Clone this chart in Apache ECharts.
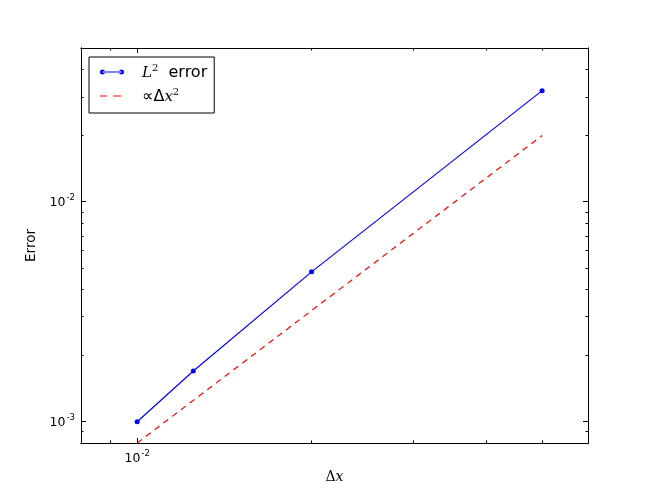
<!DOCTYPE html>
<html>
<head>
<meta charset="utf-8">
<script src="https://cdn.jsdelivr.net/npm/echarts@6/dist/echarts.min.js"></script>
<style>
  html, body { margin: 0; padding: 0; background: #fff; }
  #chart { width: 654px; height: 493px; }
</style>
</head>
<body>
<div id="chart"></div>
<script>
// data
const dx = [0.01, 0.0125, 0.02, 0.05]
const l2Error = [0.001, 0.0017, 0.0048, 0.032]
const refDx2 = [0.0008, 0.00125, 0.0032, 0.02]

// ticks
const xMajor = [0.01]
const xMinor = [0.008, 0.009, 0.02, 0.03, 0.04, 0.05]
const yMajor = [0.001, 0.01]
const yMinor = [0.0008, 0.0009, 0.002, 0.003, 0.004, 0.005, 0.006, 0.007, 0.008, 0.009, 0.02, 0.03, 0.04]

const font = 'DejaVu Sans'
const serif = 'DejaVu Serif'

const powRich = {
  b: { fontFamily: font, fontSize: 12.5, color: '#000', lineHeight: 16, verticalAlign: 'bottom' },
  s: { fontFamily: font, fontSize: 8.5, color: '#000', lineHeight: 16, verticalAlign: 'top', padding: [0, 0, 0, 1] }
}
function powLabel (v) {
  const e = Math.round(Math.log10(v))
  return '{b|10}{s|' + e + '}'
}

const axisLine = { show: true, lineStyle: { color: '#000', width: 1 } }

function xAx (pos, ticks, len, withLabel) {
  return {
    type: 'log',
    logBase: 10,
    min: 0.008,
    max: 0.06,
    position: pos,
    axisLine: axisLine,
    axisTick: { show: true, inside: true, length: len, customValues: ticks, lineStyle: { color: '#000' } },
    axisLabel: withLabel
      ? { show: true, customValues: ticks, margin: 6, formatter: powLabel, rich: powRich }
      : { show: false },
    splitLine: { show: false },
    minorTick: { show: false }
  }
}
function yAx (pos, ticks, len, withLabel) {
  return {
    type: 'log',
    logBase: 10,
    min: 0.0008,
    max: 0.05,
    position: pos,
    axisLine: axisLine,
    axisTick: { show: true, inside: true, length: len, customValues: ticks, lineStyle: { color: '#000' } },
    axisLabel: withLabel
      ? { show: true, customValues: ticks, margin: 6, formatter: powLabel, rich: powRich }
      : { show: false },
    splitLine: { show: false },
    minorTick: { show: false }
  }
}

const xAxes = [xAx('bottom', xMajor, 5, true), xAx('bottom', xMinor, 2.5, false), xAx('top', xMajor, 5, false), xAx('top', xMinor, 2.5, false)]
xAxes[0].name = 'Δ{i|x}'
xAxes[0].nameLocation = 'middle'
xAxes[0].nameGap = 26
xAxes[0].nameTextStyle = {
  fontFamily: serif, fontSize: 14, color: '#000',
  rich: { i: { fontFamily: serif, fontStyle: 'italic', fontSize: 14, color: '#000' } }
}

const yAxes = [yAx('left', yMajor, 5, true), yAx('left', yMinor, 2.5, false), yAx('right', yMajor, 5, false), yAx('right', yMinor, 2.5, false)]
yAxes[0].name = 'Error'
yAxes[0].nameLocation = 'middle'
yAxes[0].nameGap = 38
yAxes[0].nameTextStyle = { fontFamily: font, fontSize: 13.5, color: '#000' }

const chart = echarts.init(document.getElementById('chart'), null, { renderer: 'canvas' })
chart.setOption({
  backgroundColor: '#fff',
  animation: false,
  grid: { left: 81, right: 66, top: 48, bottom: 50, containLabel: false },
  legend: {
    left: 89,
    top: 57,
    orient: 'vertical',
    padding: [6, 7, 8, 11],
    itemGap: 6,
    itemWidth: 24,
    itemHeight: 14,
    borderColor: '#000',
    borderWidth: 1,
    borderRadius: 0,
    backgroundColor: '#fff',
    data: [
      { name: 'L2', icon: 'path://M0,2.5a2.5,2.5 0 1,0 5,0a2.5,2.5 0 1,0 -5,0zM19,2.5a2.5,2.5 0 1,0 5,0a2.5,2.5 0 1,0 -5,0zM2.5,1.9h19v1.2h-19z' },
      { name: 'dx2', icon: 'path://M0,0h7v1.2h-7zM13,0h8v1.2h-8zM23.9,0h0.1v1.2h-0.1z' }
    ],
    formatter: function (name) {
      if (name === 'L2') return '{i|L}{s|2}{t|  error}'
      return '{t|∝Δ}{i|x}{s|2}'
    },
    textStyle: {
      padding: [0, 0, 0, 13],
      rich: {
        i: { fontFamily: serif, fontStyle: 'italic', fontSize: 15, color: '#000', lineHeight: 18, verticalAlign: 'bottom' },
        s: { fontFamily: serif, fontSize: 10, color: '#000', lineHeight: 18, verticalAlign: 'top' },
        t: { fontFamily: font, fontSize: 16, color: '#000', lineHeight: 18, verticalAlign: 'bottom' }
      }
    }
  },
  xAxis: xAxes,
  yAxis: yAxes,
  series: [
    {
      name: 'L2',
      type: 'line',
      xAxisIndex: 0,
      yAxisIndex: 0,
      data: dx.map((x, i) => [x, l2Error[i]]),
      symbol: 'circle',
      symbolSize: 5,
      itemStyle: { color: '#0000ff' },
      lineStyle: { color: '#0000ff', width: 1.2 },
      clip: true
    },
    {
      name: 'dx2',
      type: 'line',
      xAxisIndex: 0,
      yAxisIndex: 0,
      data: dx.map((x, i) => [x, refDx2[i]]),
      showSymbol: false,
      symbol: 'none',
      itemStyle: { color: '#ff0000' },
      lineStyle: { color: '#ff0000', width: 1.2, type: [6, 5] },
      clip: true
    }
  ]
})
</script>
</body>
</html>
